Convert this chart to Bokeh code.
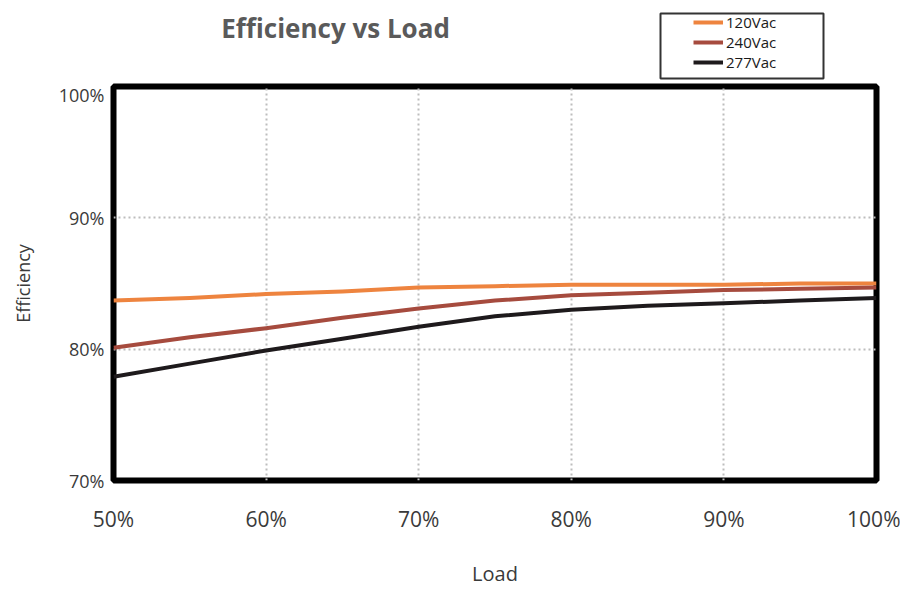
from bokeh.plotting import figure
from bokeh.layouts import column
from bokeh.models import (Range1d, FixedTicker, Label, Legend, LegendItem,
                          ColumnDataSource, BoxAnnotation)
from bokeh.embed import file_html
from bokeh.resources import INLINE

# ---- data ----
load = [50, 55, 60, 65, 70, 75, 80, 85, 90, 95, 100]
eff_120 = [83.7, 83.9, 84.2, 84.4, 84.7, 84.8, 84.9, 84.9, 84.9, 85.0, 85.0]
eff_240 = [80.1, 80.9, 81.6, 82.4, 83.1, 83.7, 84.1, 84.3, 84.5, 84.6, 84.7]
eff_277 = [77.9, 78.9, 79.9, 80.8, 81.7, 82.5, 83.0, 83.3, 83.5, 83.7, 83.9]
series_names = ["120Vac", "240Vac", "277Vac"]
series_colors = ["#EE843F", "#A64B3E", "#1E1A1C"]
x_ticks = [50, 60, 70, 80, 90, 100]
x_tick_labels = ["50%", "60%", "70%", "80%", "90%", "100%"]
y_ticks = [70, 80, 90, 100]
y_tick_labels = ["70%", "80%", "90%", "100%"]
title_text = "Efficiency vs Load"
x_label = "Load"
y_label = "Efficiency"

FONT = "Open Sans"
TOP_H = 82
FRAME_L, FRAME_R = 113, 876

# ---- header strip: title + legend (coordinates = page pixels) ----
top = figure(width=900, height=TOP_H, output_backend="svg", toolbar_location=None,
             x_range=Range1d(FRAME_L, FRAME_R), y_range=Range1d(TOP_H, 0),
             x_axis_location=None, y_axis_location=None,
             min_border_left=FRAME_L, min_border_right=900 - FRAME_R,
             min_border_top=0, min_border_bottom=0)
top.grid.visible = False
top.outline_line_color = None
top.background_fill_color = "white"
top.border_fill_color = "white"

top.add_layout(Label(x=335, y=27, text=title_text, text_font=FONT, text_font_size="26px",
                     text_font_style="bold", text_color="#5a5a5a",
                     text_align="center", text_baseline="middle"))

top.add_layout(BoxAnnotation(left=660, right=823, top=13, bottom=78,
                             fill_alpha=0, line_color="#333333", line_alpha=1,
                             line_width=2))

dummy = []
for color in series_colors:
    dummy.append(top.line(x=[0], y=[float("nan")], line_color=color, line_width=4))

legend = Legend(items=[LegendItem(label=n, renderers=[r]) for n, r in zip(series_names, dummy)],
                location=(693 - FRAME_L, 10), orientation="vertical",
                label_text_font=FONT, label_text_font_size="15px", label_text_color="#1a1a1a",
                label_height=16, glyph_height=16, glyph_width=30, spacing=0, padding=2,
                label_standoff=3, margin=0,
                border_line_color=None, background_fill_alpha=0)
top.add_layout(legend, "center")

# ---- main chart ----
p = figure(width=900, height=590 - TOP_H, output_backend="svg", toolbar_location=None,
           x_range=Range1d(50, 100), y_range=Range1d(70, 100),
           min_border_left=FRAME_L, min_border_right=900 - FRAME_R,
           min_border_top=86 - TOP_H, min_border_bottom=110)
p.background_fill_color = "white"
p.border_fill_color = "white"
p.outline_line_color = "black"
p.outline_line_width = 6

for g in (p.xgrid, p.ygrid):
    g.grid_line_color = "#bdbdbd"
    g.grid_line_width = 2
    g.grid_line_dash = "2 3"
p.xaxis.ticker = FixedTicker(ticks=x_ticks)
p.yaxis.ticker = FixedTicker(ticks=y_ticks)
p.xaxis.major_label_overrides = {t: l for t, l in zip(x_ticks, x_tick_labels)}
p.yaxis.major_label_overrides = {t: l for t, l in zip(y_ticks, y_tick_labels)}

for ax in (p.xaxis, p.yaxis):
    ax.axis_line_color = None
    ax.major_tick_line_color = None
    ax.minor_tick_line_color = None
    ax.major_tick_out = 0
    ax.major_tick_in = 0
    ax.minor_tick_out = 0
    ax.minor_tick_in = 0
    ax.major_label_text_font = FONT
    ax.major_label_text_color = "#3a3a3a"
    ax.axis_label_text_font = FONT
    ax.axis_label_text_font_style = "normal"
    ax.axis_label_text_color = "#3a3a3a"

p.xaxis.major_label_text_font_size = "21px"
p.xaxis.major_label_standoff = 24
p.xaxis.axis_label = x_label
p.xaxis.axis_label_text_font_size = "20px"
p.xaxis.axis_label_standoff = 24
p.yaxis.major_label_text_font_size = "18px"
p.yaxis.major_label_standoff = 9
p.yaxis.axis_label = y_label
p.yaxis.axis_label_text_font_size = "18px"
p.yaxis.axis_label_standoff = 21

src = ColumnDataSource(dict(load=load, e120=eff_120, e240=eff_240, e277=eff_277))
for key, color in zip(["e120", "e240", "e277"], series_colors):
    p.line("load", key, source=src, line_color=color, line_width=4, line_join="round")

layout = column(top, p, spacing=0)
open("out.html", "w").write(file_html(layout, INLINE))
